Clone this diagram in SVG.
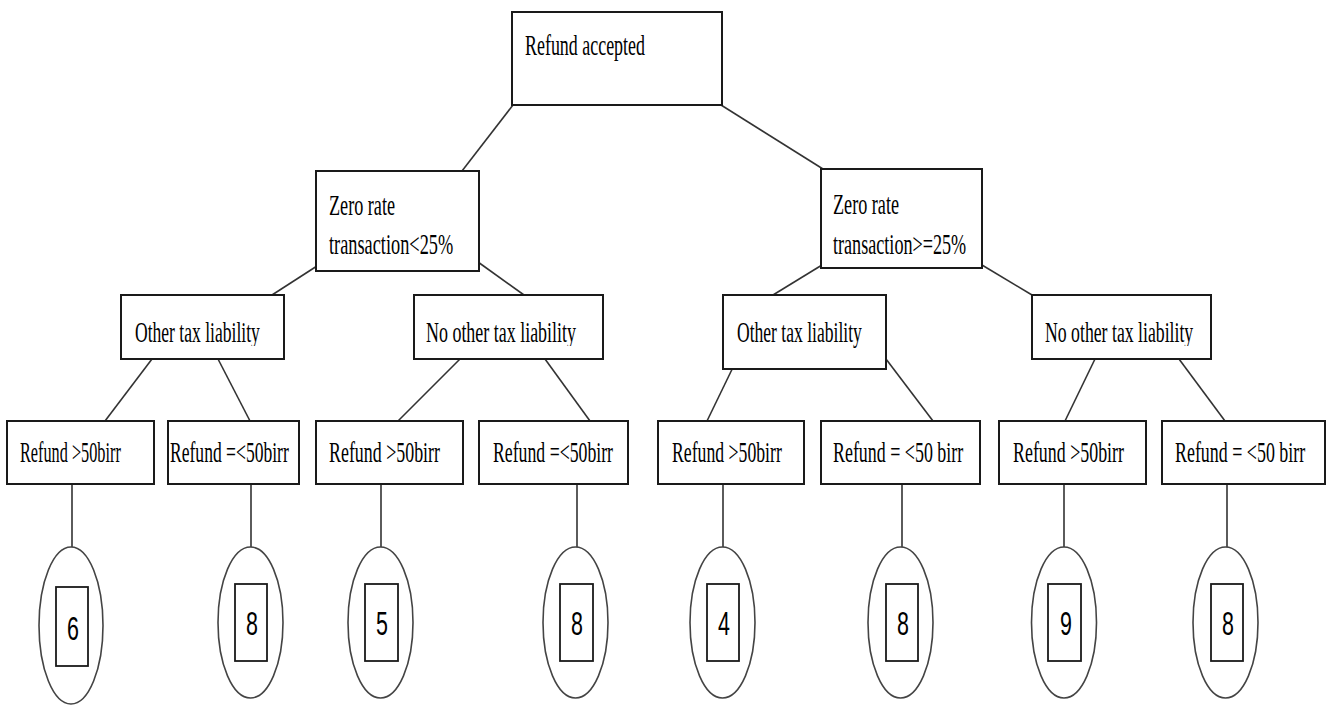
<svg xmlns="http://www.w3.org/2000/svg" width="1332" height="706" viewBox="0 0 1332 706">
  <style>
    .box { fill: #ffffff; stroke: #1a1a1a; stroke-width: 2; }
    .lbl { font-family: "Liberation Serif", "Times New Roman", serif; font-size: 30px; fill: #000000; }
    .edge { stroke: #333333; stroke-width: 1.6; fill: none; }
    .oval { fill: #ffffff; stroke: #444444; stroke-width: 1.6; }
    .sq { fill: #ffffff; stroke: #1a1a1a; stroke-width: 1.8; }
    .num { font-family: "Liberation Sans", Arial, sans-serif; font-size: 33px; fill: #000000; text-anchor: middle; }
  </style>
  <defs>
    <!-- descender of the one-line labels is cut at the text frame -->
    <clipPath id="lineClip" clipPathUnits="userSpaceOnUse"><rect x="-50" y="-60" width="400" height="64"/></clipPath>
  </defs>
  <rect width="1332" height="706" fill="#ffffff"/>

  <g id="connectors">
    <line class="edge" x1="513" y1="105" x2="462" y2="171"/>
    <line class="edge" x1="721" y1="105" x2="823" y2="169"/>
    <line class="edge" x1="317" y1="266" x2="272" y2="295"/>
    <line class="edge" x1="478" y1="262" x2="524" y2="295"/>
    <line class="edge" x1="822" y1="265" x2="773" y2="295"/>
    <line class="edge" x1="982" y1="265" x2="1032" y2="295"/>
    <line class="edge" x1="152" y1="359" x2="105" y2="421"/>
    <line class="edge" x1="218" y1="359" x2="250" y2="421"/>
    <line class="edge" x1="460" y1="359" x2="398" y2="421"/>
    <line class="edge" x1="545" y1="359" x2="590" y2="421"/>
    <line class="edge" x1="738" y1="357" x2="707" y2="421"/>
    <line class="edge" x1="886" y1="359" x2="933" y2="421"/>
    <line class="edge" x1="1095" y1="359" x2="1065" y2="421"/>
    <line class="edge" x1="1179" y1="359" x2="1225" y2="421"/>
    <line class="edge" x1="72" y1="484" x2="72" y2="547"/>
    <line class="edge" x1="251" y1="484" x2="251" y2="547"/>
    <line class="edge" x1="381" y1="484" x2="381" y2="547"/>
    <line class="edge" x1="577" y1="484" x2="577" y2="547"/>
    <line class="edge" x1="723" y1="484" x2="723" y2="547"/>
    <line class="edge" x1="902" y1="484" x2="902" y2="547"/>
    <line class="edge" x1="1064" y1="484" x2="1064" y2="547"/>
    <line class="edge" x1="1227" y1="484" x2="1227" y2="547"/>
  </g>

  <!-- labels are set in a condensed Times face: scaled 0.6 horizontally -->
  <g id="root">
    <rect class="box" x="512" y="12" width="210" height="93"/>
    <text class="lbl" transform="translate(525 55) scale(0.6 1)" textLength="200" lengthAdjust="spacingAndGlyphs">Refund accepted</text>
  </g>

  <g id="zero-low">
    <rect class="box" x="316" y="171" width="163" height="100"/>
    <text class="lbl" transform="translate(329 215) scale(0.6 1)" textLength="110" lengthAdjust="spacingAndGlyphs">Zero rate</text>
    <text class="lbl" transform="translate(329 254) scale(0.6 1)" textLength="207" lengthAdjust="spacingAndGlyphs">transaction&lt;25%</text>
  </g>

  <g id="zero-high">
    <rect class="box" x="821" y="169" width="161" height="99"/>
    <text class="lbl" transform="translate(833 214) scale(0.6 1)" textLength="110" lengthAdjust="spacingAndGlyphs">Zero rate</text>
    <text class="lbl" transform="translate(833 254) scale(0.6 1)" textLength="222" lengthAdjust="spacingAndGlyphs">transaction&gt;=25%</text>
  </g>

  <g id="low-other">
    <rect class="box" x="121" y="295" width="163" height="64"/>
    <text class="lbl" transform="translate(135 342) scale(0.6 1)" textLength="208" lengthAdjust="spacingAndGlyphs" clip-path="url(#lineClip)">Other tax liability</text>
  </g>

  <g id="low-none">
    <rect class="box" x="414" y="295" width="189" height="64"/>
    <text class="lbl" transform="translate(426 342) scale(0.6 1)" textLength="250" lengthAdjust="spacingAndGlyphs" clip-path="url(#lineClip)">No other tax liability</text>
  </g>

  <g id="high-other">
    <rect class="box" x="723" y="295" width="163" height="74"/>
    <text class="lbl" transform="translate(737 342) scale(0.6 1)" textLength="208" lengthAdjust="spacingAndGlyphs">Other tax liability</text>
  </g>

  <g id="high-none">
    <rect class="box" x="1032" y="295" width="179" height="64"/>
    <text class="lbl" transform="translate(1045 342) scale(0.6 1)" textLength="247" lengthAdjust="spacingAndGlyphs" clip-path="url(#lineClip)">No other tax liability</text>
  </g>

  <g id="leaf-1">
    <rect class="box" x="7" y="421" width="147" height="63"/>
    <text class="lbl" transform="translate(20 462) scale(0.6 1)" textLength="168" lengthAdjust="spacingAndGlyphs">Refund &gt;50birr</text>
  </g>
  <g id="leaf-2">
    <rect class="box" x="168" y="421" width="131" height="63"/>
    <text class="lbl" transform="translate(170 462) scale(0.6 1)" textLength="198" lengthAdjust="spacingAndGlyphs">Refund =&lt;50birr</text>
  </g>
  <g id="leaf-3">
    <rect class="box" x="316" y="421" width="147" height="63"/>
    <text class="lbl" transform="translate(329 462) scale(0.6 1)" textLength="185" lengthAdjust="spacingAndGlyphs">Refund &gt;50birr</text>
  </g>
  <g id="leaf-4">
    <rect class="box" x="479" y="421" width="149" height="63"/>
    <text class="lbl" transform="translate(493 462) scale(0.6 1)" textLength="200" lengthAdjust="spacingAndGlyphs">Refund =&lt;50birr</text>
  </g>
  <g id="leaf-5">
    <rect class="box" x="658" y="421" width="146" height="63"/>
    <text class="lbl" transform="translate(672 462) scale(0.6 1)" textLength="183" lengthAdjust="spacingAndGlyphs">Refund &gt;50birr</text>
  </g>
  <g id="leaf-6">
    <rect class="box" x="821" y="421" width="159" height="63"/>
    <text class="lbl" transform="translate(833 462) scale(0.6 1)" textLength="217" lengthAdjust="spacingAndGlyphs">Refund = &lt;50 birr</text>
  </g>
  <g id="leaf-7">
    <rect class="box" x="999" y="421" width="147" height="63"/>
    <text class="lbl" transform="translate(1013 462) scale(0.6 1)" textLength="185" lengthAdjust="spacingAndGlyphs">Refund &gt;50birr</text>
  </g>
  <g id="leaf-8">
    <rect class="box" x="1162" y="421" width="163" height="63"/>
    <text class="lbl" transform="translate(1175 462) scale(0.6 1)" textLength="217" lengthAdjust="spacingAndGlyphs">Refund = &lt;50 birr</text>
  </g>

  <g id="score-1">
    <ellipse class="oval" cx="71" cy="625.5" rx="32" ry="78.5"/>
    <rect class="sq" x="56" y="587" width="32" height="79"/>
    <text class="num" transform="translate(73 640) scale(0.65 1)">6</text>
  </g>
  <g id="score-2">
    <ellipse class="oval" cx="250.5" cy="622.5" rx="32.5" ry="75.5"/>
    <rect class="sq" x="235" y="584" width="32" height="77"/>
    <text class="num" transform="translate(252 635) scale(0.65 1)">8</text>
  </g>
  <g id="score-3">
    <ellipse class="oval" cx="380.5" cy="622.5" rx="32.5" ry="75.5"/>
    <rect class="sq" x="365" y="584" width="33" height="77"/>
    <text class="num" transform="translate(382 635) scale(0.65 1)">5</text>
  </g>
  <g id="score-4">
    <ellipse class="oval" cx="575.5" cy="622.5" rx="32.5" ry="75.5"/>
    <rect class="sq" x="560" y="584" width="33" height="77"/>
    <text class="num" transform="translate(577 635) scale(0.65 1)">8</text>
  </g>
  <g id="score-5">
    <ellipse class="oval" cx="722.5" cy="622.5" rx="32.5" ry="75.5"/>
    <rect class="sq" x="707" y="584" width="32" height="77"/>
    <text class="num" transform="translate(724 635) scale(0.65 1)">4</text>
  </g>
  <g id="score-6">
    <ellipse class="oval" cx="900.5" cy="622.5" rx="32.5" ry="75.5"/>
    <rect class="sq" x="886" y="584" width="32" height="77"/>
    <text class="num" transform="translate(903 635) scale(0.65 1)">8</text>
  </g>
  <g id="score-7">
    <ellipse class="oval" cx="1064" cy="622.5" rx="32.5" ry="75.5"/>
    <rect class="sq" x="1048" y="584" width="33" height="77"/>
    <text class="num" transform="translate(1066 635) scale(0.65 1)">9</text>
  </g>
  <g id="score-8">
    <ellipse class="oval" cx="1225.5" cy="622.5" rx="32.5" ry="75.5"/>
    <rect class="sq" x="1211" y="584" width="32" height="77"/>
    <text class="num" transform="translate(1228 635) scale(0.65 1)">8</text>
  </g>
</svg>
